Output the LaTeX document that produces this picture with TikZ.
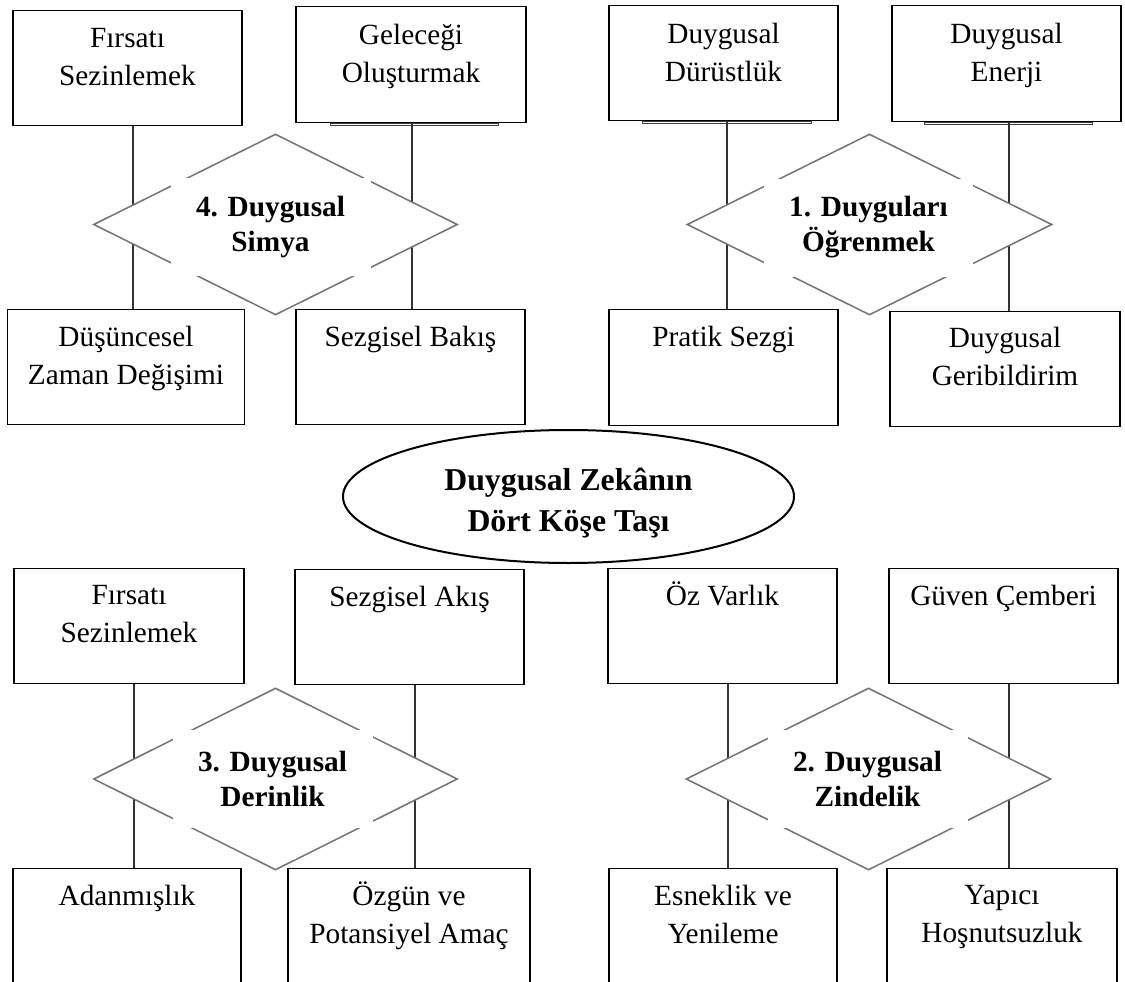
\documentclass[tikz,border=0pt]{standalone}
\usepackage{fontspec}
\setmainfont{Liberation Serif}
\usetikzlibrary{shapes.geometric,positioning}

\newcommand{\boxfont}{\fontsize{29.3pt}{38pt}\selectfont}
\newcommand{\gemfont}{\fontsize{29.3pt}{35pt}\selectfont\bfseries}
\newcommand{\corefont}{\fontsize{31.8pt}{41pt}\selectfont\bfseries}

\begin{document}
\begin{tikzpicture}[x=1pt, y=-1pt,
    box/.style={rectangle, draw, line width=1.3pt, anchor=north, minimum width=229pt, minimum height=115pt, inner sep=0pt},
    boxtext/.style={anchor=north, yshift=-17pt, inner sep=0pt, align=center, font=\boxfont},
    gem/.style={diamond, draw=black!55, line width=1.5pt, fill=white, minimum width=364pt, minimum height=181pt, inner sep=0pt},
    gemtext/.style={fill=white, minimum width=200pt, minimum height=98pt, inner sep=0pt, align=center, font=\gemfont},
    core/.style={ellipse, draw, line width=2pt, minimum width=451pt, minimum height=133pt, inner sep=0pt},
    link/.style={draw=black!80, line width=2pt},
    ledge/.style={draw=black!75, line width=0.8pt}
]
\useasboundingbox (0,0) rectangle (1125,982);
\clip (0,0) rectangle (1125,982);

% upper left: 4
\node[box] (tl1) at (127.5,10) [label={[boxtext, name=tl1-t, yshift=-1pt]north:Fırsatı\\Sezinlemek}] {};
\node[box, minimum width=230pt, minimum height=116pt] (tl2) at (411,6) [label={[boxtext, name=tl2-t, yshift=-1pt]north:Geleceği\\Oluşturmak}] {};
\node[box, minimum width=237pt] (bl1) at (126,309) [label={[boxtext, name=bl1-t]north:Düşüncesel\\Zaman Değişimi}] {};
\node[box] (bl2) at (410.5,309) [label={[boxtext, name=bl2-t]north:Sezgisel Bakış}] {};

% upper right: 1
\node[box] (tr1) at (723.5,5) [label={[boxtext, name=tr1-t, yshift=-1pt]north:Duygusal\\Dürüstlük}] {};
\node[box, minimum height=116pt] (tr2) at (1006.5,5) [label={[boxtext, name=tr2-t, yshift=-1pt]north:Duygusal\\Enerji}] {};
\node[box, minimum height=116pt] (br1) at (723.5,309) [label={[boxtext, name=br1-t]north:Pratik Sezgi}] {};
\node[box, minimum width=230pt] (br2) at (1005,311) [label={[boxtext, name=br2-t, yshift=1pt]north:Duygusal\\Geribildirim}] {};

% lower left: 3
\node[box, minimum width=230pt] (ll1) at (129,568) [label={[boxtext, name=ll1-t]north:Fırsatı\\Sezinlemek}] {};
\node[box] (ll2) at (409.5,569) [label={[boxtext, name=ll2-t]north:Sezgisel Akış}] {};
\node[box, minimum width=228pt, minimum height=125pt] (ll3) at (127,868) [label={[boxtext, name=ll3-t]north:Adanmışlık}] {};
\node[box, minimum width=242pt, minimum height=125pt] (ll4) at (409,868) [label={[boxtext, name=ll4-t, yshift=3pt]north:Özgün ve\\Potansiyel Amaç}] {};

% lower right: 2
\node[box] (lr1) at (722.5,568) [label={[boxtext, name=lr1-t, yshift=3pt]north:Öz Varlık}] {};
\node[box] (lr2) at (1003.5,568) [label={[boxtext, name=lr2-t]north:Güven Çemberi}] {};
\node[box, minimum width=228pt, minimum height=125pt] (lr3) at (723,868) [label={[boxtext, name=lr3-t]north:Esneklik ve\\Yenileme}] {};
\node[box, minimum width=230pt, minimum height=125pt] (lr4) at (1002,868) [label={[boxtext, name=lr4-t]north:Yapıcı\\Hoşnutsuzluk}] {};

% doubled bottom edges
\draw[ledge] ([xshift=35pt]tl2.south west) rectangle ([xshift=-28pt,yshift=-2.5pt]tl2.south east);
\draw[ledge] ([xshift=34pt]tr1.south west) rectangle ([xshift=-27pt,yshift=-2.5pt]tr1.south east);
\draw[ledge] ([xshift=33pt]tr2.south west) rectangle ([xshift=-29pt,yshift=-2.5pt]tr2.south east);

% vertical links
\draw[link] ([xshift=5.5pt]tl1.south) -- ([xshift=5.5pt]tl1.south |- bl1.north);
\draw[link] ([xshift=1pt]tl2.south) -- ([xshift=1pt]tl2.south |- bl2.north);
\draw[link] ([xshift=3.5pt]tr1.south) -- ([xshift=3.5pt]tr1.south |- br1.north);
\draw[link] ([xshift=2.5pt]tr2.south) -- ([xshift=2.5pt]tr2.south |- br2.north);
\draw[link] ([xshift=5pt]ll1.south) -- ([xshift=5pt]ll1.south |- ll3.north);
\draw[link] ([xshift=5.5pt]ll2.south) -- ([xshift=5.5pt]ll2.south |- ll4.north);
\draw[link] ([xshift=5.5pt]lr1.south) -- ([xshift=5.5pt]lr1.south |- lr3.north);
\draw[link] ([xshift=5.5pt]lr2.south) -- ([xshift=5.5pt]lr2.south |- lr4.north);

% diamonds
\node[gem] (d4) at (275.5,224.5) {};
\node[gemtext] (d4-t) at ([xshift=-5pt,yshift=-2pt]d4.center) {4. Duygusal\\Simya};
\node[gem, minimum width=365pt] (d1) at (869.5,224.5) {};
\node[gemtext, minimum width=209pt] (d1-t) at ([xshift=-1pt,yshift=-3pt]d1.center) {1. Duyguları\\Öğrenmek};
\node[gem, minimum height=182pt] (d3) at (275.5,779) {};
\node[gemtext] (d3-t) at ([xshift=-3pt]d3.center) {3. Duygusal\\Derinlik};
\node[gem, minimum width=365pt, minimum height=182pt] (d2) at (868.5,779) {};
\node[gemtext] (d2-t) at ([xshift=-1pt]d2.center) {2. Duygusal\\Zindelik};

% centre
\node[core] (core) at (568.5,496.5) {};
\node[inner sep=0pt, align=center, font=\corefont] (core-t) at ([yshift=-7pt]core.center) {Duygusal Zekânın\\Dört Köşe Taşı};
\end{tikzpicture}
\end{document}
